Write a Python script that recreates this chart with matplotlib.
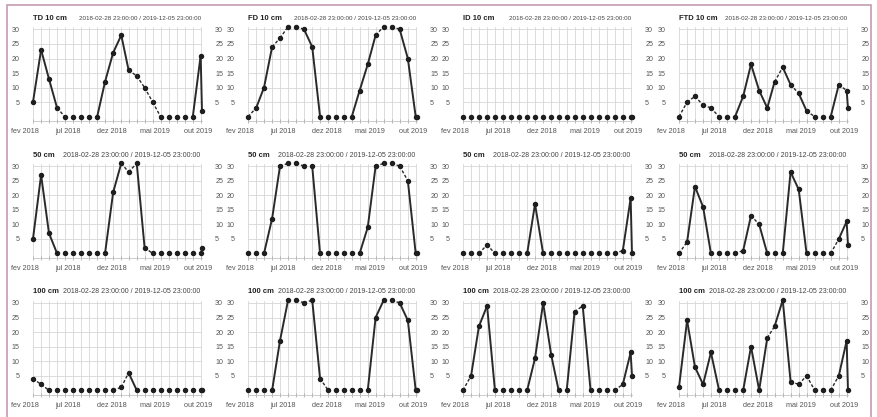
import matplotlib
matplotlib.use("Agg")
import matplotlib.pyplot as plt
import pandas as pd
from matplotlib.patches import Rectangle

# Sampling dates (month ends plus the final reading)
dates = pd.to_datetime([
    "2018-02-28", "2018-03-31", "2018-04-30", "2018-05-31", "2018-06-30",
    "2018-07-31", "2018-08-31", "2018-09-30", "2018-10-31", "2018-11-30",
    "2018-12-31", "2019-01-31", "2019-02-28", "2019-03-31", "2019-04-30",
    "2019-05-31", "2019-06-30", "2019-07-31", "2019-08-31", "2019-09-30",
    "2019-10-31", "2019-11-30", "2019-12-05",
])

period_text = "2018-02-28 23:00:00 / 2019-12-05 23:00:00"
month_labels = ["fev 2018", "jul 2018", "dez 2018", "mai 2019", "out 2019"]
y_ticks = [5, 10, 15, 20, 25, 30]

titles = [
    "TD 10 cm", "FD 10 cm", "ID 10 cm", "FTD 10 cm",
    "50 cm", "50 cm", "50 cm", "50 cm",
    "100 cm", "100 cm", "100 cm", "100 cm",
]

td_10 = [5, 23, 13, 3, 0, 0, 0, 0, 0, 12, 22, 28, 16, 14, 10, 5, 0, 0, 0, 0, 0, 21, 2]
fd_10 = [0, 3, 10, 24, 27, 31, 31, 30, 24, 0, 0, 0, 0, 0, 9, 18, 28, 31, 31, 30, 20, 0, 0]
id_10 = [0] * 23
ftd_10 = [0, 5, 7, 4, 3, 0, 0, 0, 7, 18, 9, 3, 12, 17, 11, 8, 2, 0, 0, 0, 11, 9, 3]

td_50 = [5, 27, 7, 0, 0, 0, 0, 0, 0, 0, 21, 31, 28, 31, 2, 0, 0, 0, 0, 0, 0, 0, 2]
fd_50 = [0, 0, 0, 12, 30, 31, 31, 30, 30, 0, 0, 0, 0, 0, 0, 9, 30, 31, 31, 30, 25, 0, 0]
id_50 = [0, 0, 0, 3, 0, 0, 0, 0, 0, 17, 0, 0, 0, 0, 0, 0, 0, 0, 0, 0, 1, 19, 0]
ftd_50 = [0, 4, 23, 16, 0, 0, 0, 0, 1, 13, 10, 0, 0, 0, 28, 22, 0, 0, 0, 0, 5, 11, 3]

td_100 = [4, 2, 0, 0, 0, 0, 0, 0, 0, 0, 0, 1, 6, 0, 0, 0, 0, 0, 0, 0, 0, 0, 0]
fd_100 = [0, 0, 0, 0, 17, 31, 31, 30, 31, 4, 0, 0, 0, 0, 0, 0, 25, 31, 31, 30, 24, 0, 0]
id_100 = [0, 5, 22, 29, 0, 0, 0, 0, 0, 11, 30, 12, 0, 0, 27, 29, 0, 0, 0, 0, 2, 13, 5]
ftd_100 = [1, 24, 8, 2, 13, 0, 0, 0, 0, 15, 0, 18, 22, 31, 3, 2, 5, 0, 0, 0, 5, 17, 0]

series = [td_10, fd_10, id_10, ftd_10,
          td_50, fd_50, id_50, ftd_50,
          td_100, fd_100, id_100, ftd_100]

FONT = "Liberation Sans"
LINE = "#2a2a2a"
GRID = "#d6d6d6"
TXT = "#555555"

fig = plt.figure(figsize=(8.77, 4.17), dpi=100)
fig.patch.set_facecolor("white")

lefts = [0.0376, 0.2828, 0.5279, 0.7742]
bottoms = [0.709, 0.381, 0.053]
width, height = 0.1927, 0.226

label_pos = [-0.05 + 0.257 * k for k in range(len(month_labels))]

for idx, (title, vals) in enumerate(zip(titles, series)):
    r, c = divmod(idx, 4)
    ax = fig.add_axes([lefts[c], bottoms[r], width, height])
    ax.set_xlim(dates[0], dates[-1])
    ax.set_ylim(-1.6, 30.8)

    # grid
    ax.set_yticks(y_ticks)
    ax.set_xticks([])
    ax.set_xticks(dates[:-1], minor=True)
    ax.grid(axis="y", which="major", color=GRID, lw=0.6)
    ax.grid(axis="x", which="minor", color=GRID, lw=0.6)
    ax.set_axisbelow(True)
    for s in ("top", "left", "right"):
        ax.spines[s].set_visible(False)
    ax.spines["bottom"].set_color("#c4c4c4")
    ax.spines["bottom"].set_linewidth(0.6)
    ax.tick_params(axis="x", which="minor", direction="inout", length=3,
                   width=0.6, color="#aaaaaa", labelbottom=False)
    ax.tick_params(axis="y", which="both", left=False, right=False,
                   labelleft=True, labelright=True, pad=6.0,
                   labelsize=5.1, labelcolor=TXT)
    for lab in ax.get_yticklabels():
        lab.set_fontfamily(FONT)

    # line segments: steep changes solid, gentle changes dashed, flat omitted
    for i in range(len(vals) - 1):
        d = abs(vals[i + 1] - vals[i])
        if d == 0:
            continue
        if d >= 6:
            ax.plot(dates[i:i + 2], vals[i:i + 2], color=LINE, lw=1.4,
                    solid_capstyle="round", clip_on=False, zorder=3)
        else:
            ax.plot(dates[i:i + 2], vals[i:i + 2], color=LINE, lw=1.0,
                    dashes=(2.2, 1.4), clip_on=False, zorder=3)
    ax.plot(dates, vals, ls="none", marker="o", ms=2.9, color="#1e1e1e",
            clip_on=False, zorder=4)

    # titles: the longer first-row names get a slightly smaller period line
    ax.annotate(title, xy=(0, 1), xycoords="axes fraction",
                xytext=(0.3, 6.3), textcoords="offset points",
                ha="left", va="center", fontsize=5.5, fontweight="bold",
                family=FONT, color="#222222")
    ax.annotate(period_text, xy=(1, 1), xycoords="axes fraction",
                xytext=(-1.5 if r else -0.5, 6.3), textcoords="offset points",
                ha="right", va="center", fontsize=4.5 if r == 0 else 5.0,
                family=FONT, color="#444444")

    # month labels
    for pos, lab in zip(label_pos, month_labels):
        ax.annotate(lab, xy=(pos, 0), xycoords="axes fraction",
                    xytext=(0, -7.5), textcoords="offset points",
                    ha="center", va="center", fontsize=5.2, family=FONT,
                    color=TXT)

# frame around the figure
fig.patches.append(Rectangle((7 / 877, -0.02), 864 / 877, 0.988 + 0.02,
                             transform=fig.transFigure, fill=False,
                             edgecolor="#c59bb0", lw=1.2))

fig.savefig("out.png", dpi=100, facecolor="white")
